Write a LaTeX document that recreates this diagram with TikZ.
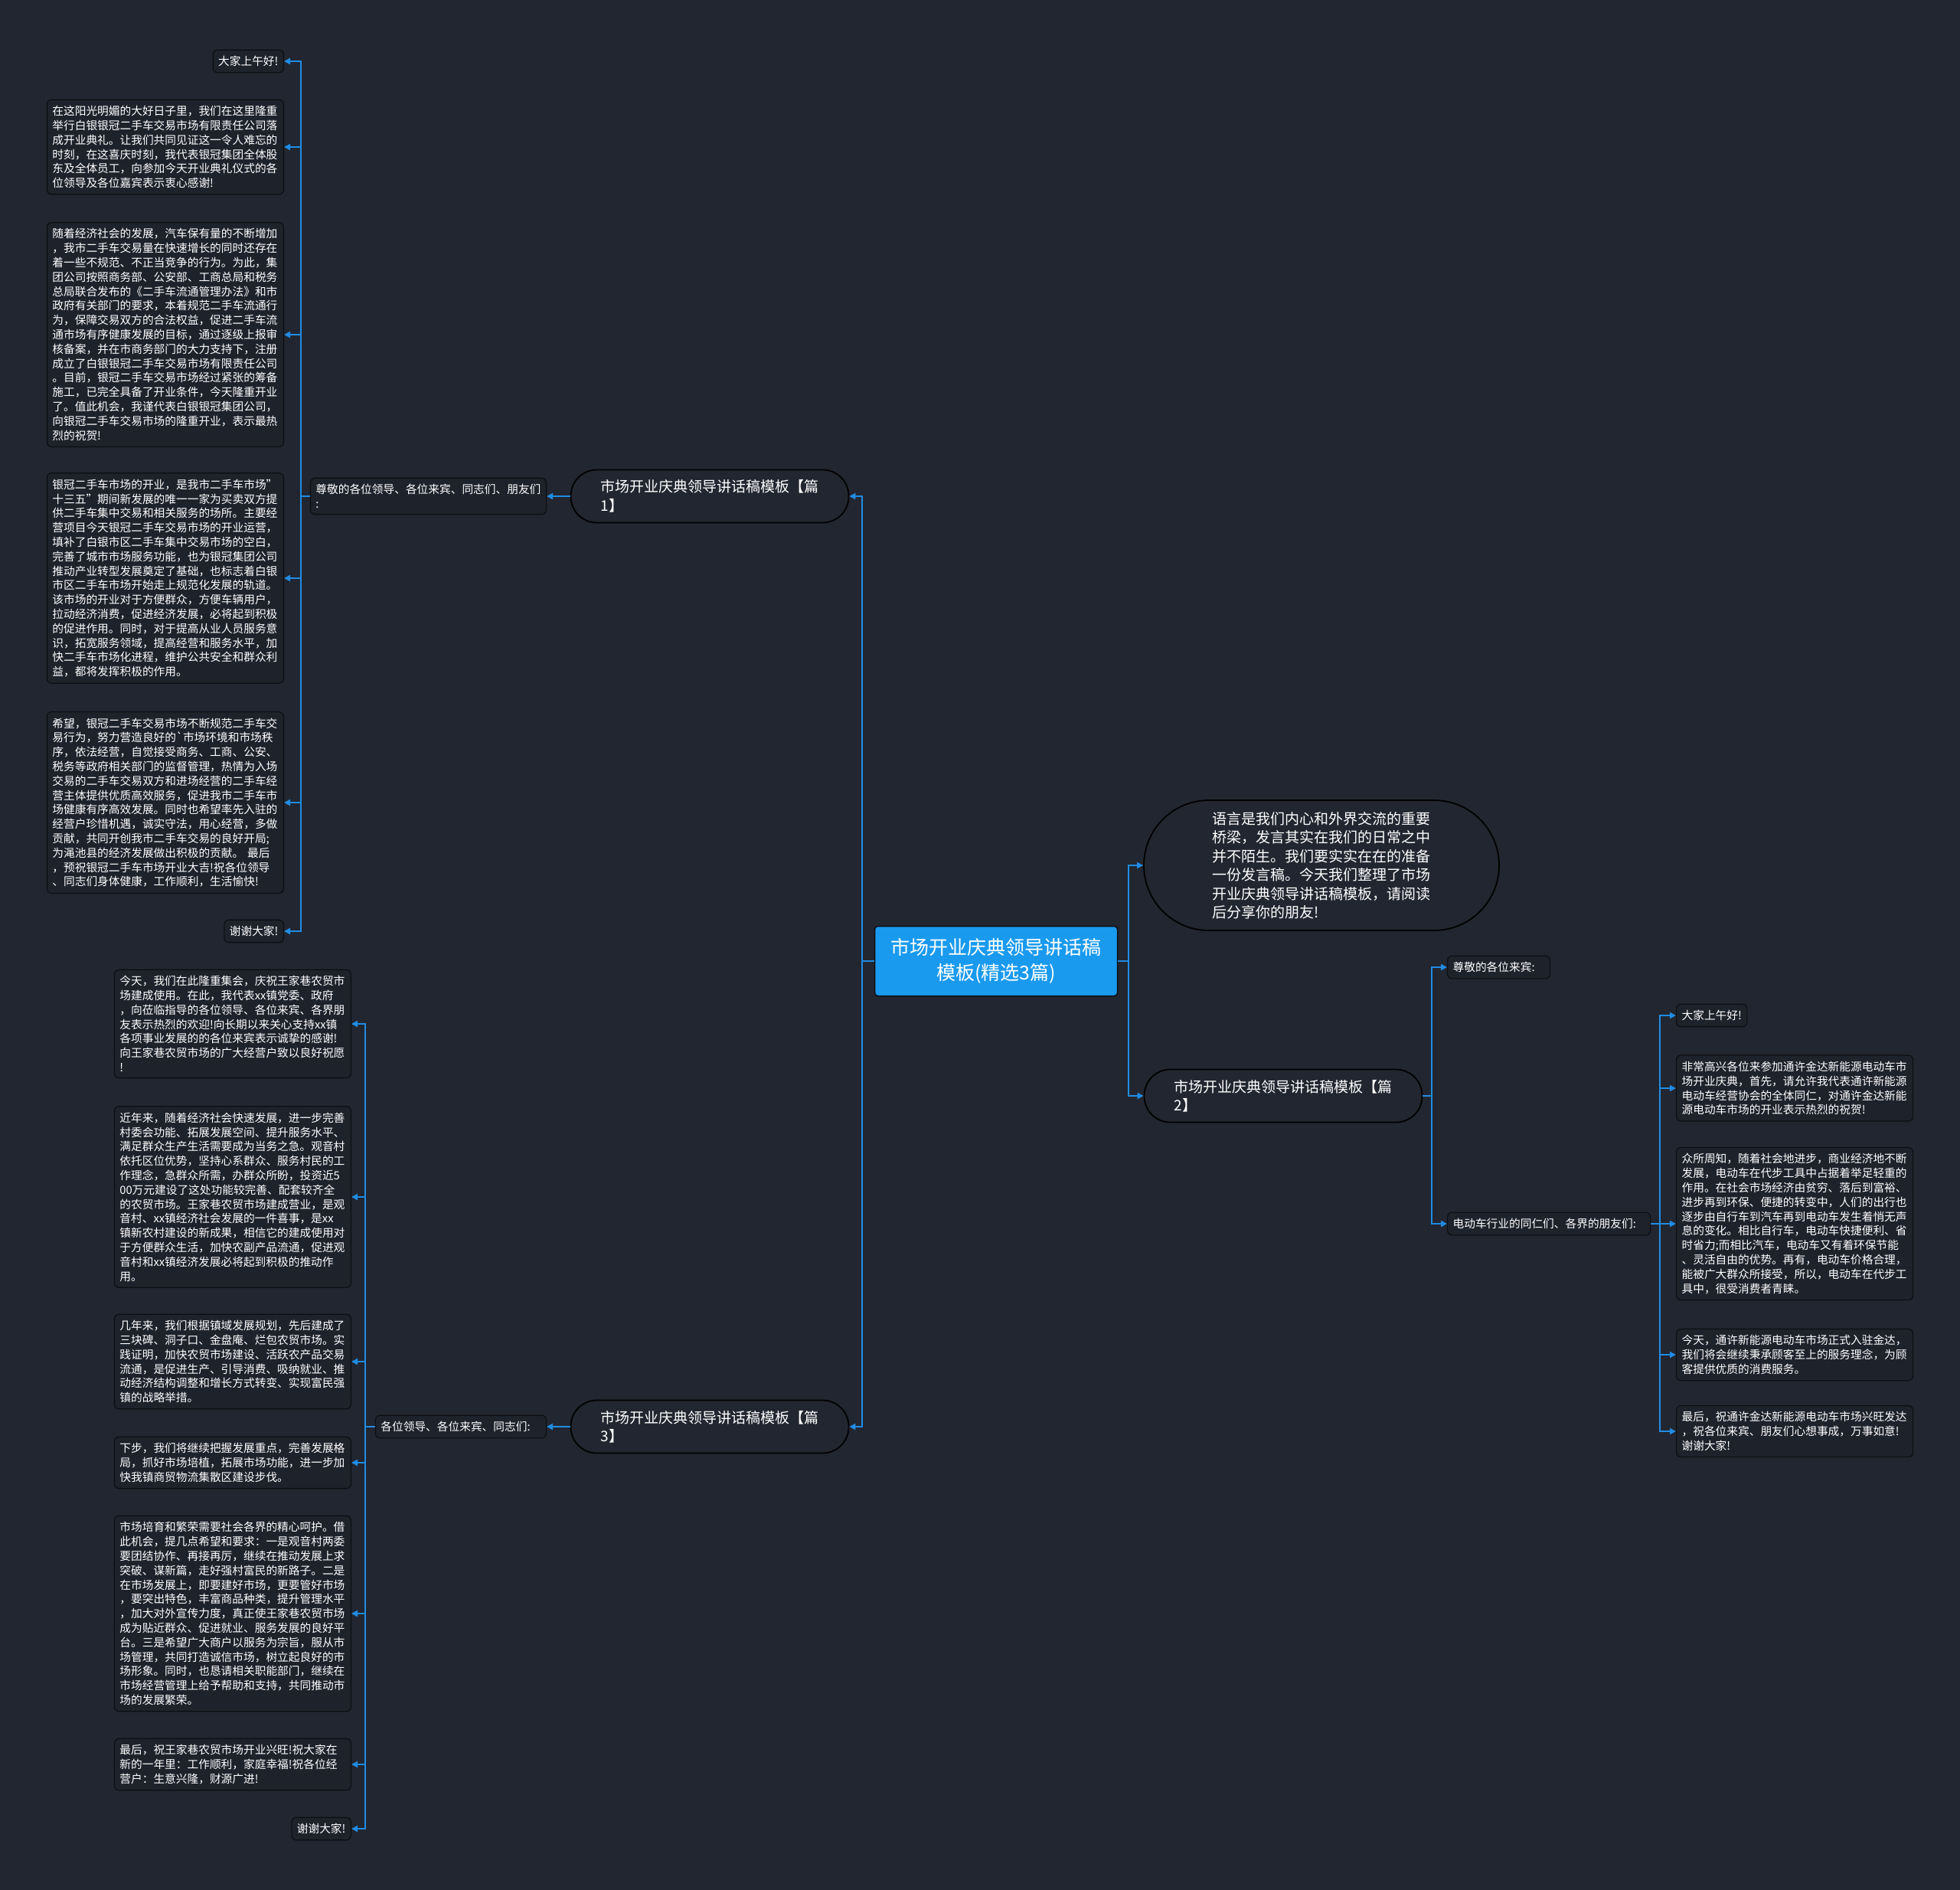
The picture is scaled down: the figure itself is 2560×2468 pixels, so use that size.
\documentclass[tikz,border=0pt]{standalone}
\usepackage{fontspec}
\setmainfont{Noto Sans CJK SC}
\definecolor{bgdark}{RGB}{34, 38, 48}
\definecolor{leafbg}{RGB}{30, 34, 43}
\definecolor{edgedark}{RGB}{12, 14, 18}
\definecolor{linkblue}{RGB}{32, 140, 228}
\definecolor{rootblue}{RGB}{26, 154, 238}
\usetikzlibrary{arrows.meta, positioning, calc}

\begin{document}
\begin{tikzpicture}[x=1pt, y=-1pt,
  leaf/.style={draw=edgedark, fill=leafbg, line width=1.2pt, rounded corners=6pt, text=white,
    font=\fontsize{14.7}{18.8}\selectfont, inner xsep=7pt, inner ysep=8pt, align=left},
  para/.style={leaf, text width=295pt},
  topic/.style={draw=black, fill=bgdark, line width=1.8pt, rounded corners=34pt, text=white,
    font=\fontsize{19}{24.5}\selectfont, align=left, text width=285pt,
    minimum width=363pt, minimum height=69pt, inner xsep=0pt},
  link/.style={draw=linkblue, line width=2pt, -{Triangle[length=8pt, width=8pt]}},
]
\useasboundingbox (0,0) rectangle (2560,2468);
\fill[bgdark] (0,0) rectangle (2560,2468);

% Centre
\node[draw=edgedark, fill=rootblue, line width=1.5pt, rounded corners=4pt, text=white,
  font=\fontsize{25}{33}\selectfont, align=center, minimum width=317pt, minimum height=91pt]
  (root) at (1301, 1255) {市场开业庆典领导讲话稿\\模板(精选3篇)};

\node[topic, rounded corners=85pt, minimum width=464pt, minimum height=170pt]
  (intro) at (1726, 1130)
{语言是我们内心和外界交流的重要\\
桥梁，发言其实在我们的日常之中\\
并不陌生。我们要实实在在的准备\\
一份发言稿。今天我们整理了市场\\
开业庆典领导讲话稿模板，请阅读\\
后分享你的朋友!};

\node[topic] (sec1) at (927, 648) {市场开业庆典领导讲话稿模板【篇\\1】};
\node[topic] (sec2) at (1676, 1431) {市场开业庆典领导讲话稿模板【篇\\2】};
\node[topic] (sec3) at (927, 1863) {市场开业庆典领导讲话稿模板【篇\\3】};

% Part 1
\node[leaf, anchor=east] (greet1) at (714, 648) {尊敬的各位领导、各位来宾、同志们、朋友们\\:};

\node[leaf, anchor=east] (p1a) at (371, 80) {大家上午好!};
\node[para, anchor=east] (p1b) at (371, 192)
{在这阳光明媚的大好日子里，我们在这里隆重\\
举行白银银冠二手车交易市场有限责任公司落\\
成开业典礼。让我们共同见证这一令人难忘的\\
时刻，在这喜庆时刻，我代表银冠集团全体股\\
东及全体员工，向参加今天开业典礼仪式的各\\
位领导及各位嘉宾表示衷心感谢!};
\node[para, anchor=east] (p1c) at (371, 437)
{随着经济社会的发展，汽车保有量的不断增加\\
，我市二手车交易量在快速增长的同时还存在\\
着一些不规范、不正当竞争的行为。为此，集\\
团公司按照商务部、公安部、工商总局和税务\\
总局联合发布的《二手车流通管理办法》和市\\
政府有关部门的要求，本着规范二手车流通行\\
为，保障交易双方的合法权益，促进二手车流\\
通市场有序健康发展的目标，通过逐级上报审\\
核备案，并在市商务部门的大力支持下，注册\\
成立了白银银冠二手车交易市场有限责任公司\\
。目前，银冠二手车交易市场经过紧张的筹备\\
施工，已完全具备了开业条件，今天隆重开业\\
了。值此机会，我谨代表白银银冠集团公司，\\
向银冠二手车交易市场的隆重开业，表示最热\\
烈的祝贺!};
\node[para, anchor=east] (p1d) at (371, 755)
{银冠二手车市场的开业，是我市二手车市场"\\
十三五"期间新发展的唯一一家为买卖双方提\\
供二手车集中交易和相关服务的场所。主要经\\
营项目今天银冠二手车交易市场的开业运营，\\
填补了白银市区二手车集中交易市场的空白，\\
完善了城市市场服务功能，也为银冠集团公司\\
推动产业转型发展奠定了基础，也标志着白银\\
市区二手车市场开始走上规范化发展的轨道。\\
该市场的开业对于方便群众，方便车辆用户，\\
拉动经济消费，促进经济发展，必将起到积极\\
的促进作用。同时，对于提高从业人员服务意\\
识，拓宽服务领域，提高经营和服务水平，加\\
快二手车市场化进程，维护公共安全和群众利\\
益，都将发挥积极的作用。};
\node[para, anchor=east] (p1e) at (371, 1048)
{希望，银冠二手车交易市场不断规范二手车交\\
易行为，努力营造良好的\textasciigrave 市场环境和市场秩\\
序，依法经营，自觉接受商务、工商、公安、\\
税务等政府相关部门的监督管理，热情为入场\\
交易的二手车交易双方和进场经营的二手车经\\
营主体提供优质高效服务，促进我市二手车市\\
场健康有序高效发展。同时也希望率先入驻的\\
经营户珍惜机遇，诚实守法，用心经营，多做\\
贡献，共同开创我市二手车交易的良好开局;\\
为渑池县的经济发展做出积极的贡献。 最后\\
，预祝银冠二手车市场开业大吉!祝各位领导\\
、同志们身体健康，工作顺利，生活愉快!};
\node[leaf, anchor=east] (p1f) at (371, 1216) {谢谢大家!};

% Part 3
\node[leaf, anchor=east, text width=209pt] (greet3) at (714, 1863) {各位领导、各位来宾、同志们:};

\node[para, anchor=east] (p3a) at (459, 1337)
{今天，我们在此隆重集会，庆祝王家巷农贸市\\
场建成使用。在此，我代表xx镇党委、政府\\
，向莅临指导的各位领导、各位来宾、各界朋\\
友表示热烈的欢迎!向长期以来关心支持xx镇\\
各项事业发展的的各位来宾表示诚挚的感谢!\\
向王家巷农贸市场的广大经营户致以良好祝愿\\
!};
\node[para, anchor=east] (p3b) at (459, 1563)
{近年来，随着经济社会快速发展，进一步完善\\
村委会功能、拓展发展空间、提升服务水平、\\
满足群众生产生活需要成为当务之急。观音村\\
依托区位优势，坚持心系群众、服务村民的工\\
作理念，急群众所需，办群众所盼，投资近5\\
00万元建设了这处功能较完善、配套较齐全\\
的农贸市场。王家巷农贸市场建成营业，是观\\
音村、xx镇经济社会发展的一件喜事，是xx\\
镇新农村建设的新成果，相信它的建成使用对\\
于方便群众生活，加快农副产品流通，促进观\\
音村和xx镇经济发展必将起到积极的推动作\\
用。};
\node[para, anchor=east] (p3c) at (459, 1778)
{几年来，我们根据镇域发展规划，先后建成了\\
三块碑、洞子口、金盘庵、烂包农贸市场。实\\
践证明，加快农贸市场建设、活跃农产品交易\\
流通，是促进生产、引导消费、吸纳就业、推\\
动经济结构调整和增长方式转变、实现富民强\\
镇的战略举措。};
\node[para, anchor=east] (p3d) at (459, 1910)
{下步，我们将继续把握发展重点，完善发展格\\
局，抓好市场培植，拓展市场功能，进一步加\\
快我镇商贸物流集散区建设步伐。};
\node[para, anchor=east] (p3e) at (459, 2107)
{市场培育和繁荣需要社会各界的精心呵护。借\\
此机会，提几点希望和要求：一是观音村两委\\
要团结协作、再接再厉，继续在推动发展上求\\
突破、谋新篇，走好强村富民的新路子。二是\\
在市场发展上，即要建好市场，更要管好市场\\
，要突出特色，丰富商品种类，提升管理水平\\
，加大对外宣传力度，真正使王家巷农贸市场\\
成为贴近群众、促进就业、服务发展的良好平\\
台。三是希望广大商户以服务为宗旨，服从市\\
场管理，共同打造诚信市场，树立起良好的市\\
场形象。同时，也恳请相关职能部门，继续在\\
市场经营管理上给予帮助和支持，共同推动市\\
场的发展繁荣。};
\node[para, anchor=east] (p3f) at (459, 2304)
{最后，祝王家巷农贸市场开业兴旺!祝大家在\\
新的一年里：工作顺利，家庭幸福!祝各位经\\
营户：生意兴隆，财源广进!};
\node[leaf, anchor=east] (p3g) at (459, 2388) {谢谢大家!};

% Part 2
\node[leaf, anchor=west, text width=120pt] (greet2a) at (1890, 1263) {尊敬的各位来宾:};
\node[leaf, anchor=west, text width=251pt] (greet2b) at (1890, 1598) {电动车行业的同仁们、各界的朋友们:};

\node[leaf, anchor=west] (p2a) at (2189, 1326) {大家上午好!};
\node[para, anchor=west] (p2b) at (2189, 1421)
{非常高兴各位来参加通许金达新能源电动车市\\
场开业庆典，首先，请允许我代表通许新能源\\
电动车经营协会的全体同仁，对通许金达新能\\
源电动车市场的开业表示热烈的祝贺!};
\node[para, anchor=west] (p2c) at (2189, 1598)
{众所周知，随着社会地进步，商业经济地不断\\
发展，电动车在代步工具中占据着举足轻重的\\
作用。在社会市场经济由贫穷、落后到富裕、\\
进步再到环保、便捷的转变中，人们的出行也\\
逐步由自行车到汽车再到电动车发生着悄无声\\
息的变化。相比自行车，电动车快捷便利、省\\
时省力;而相比汽车，电动车又有着环保节能\\
、灵活自由的优势。再有，电动车价格合理，\\
能被广大群众所接受，所以，电动车在代步工\\
具中，很受消费者青睐。};
\node[para, anchor=west] (p2d) at (2189, 1769)
{今天，通许新能源电动车市场正式入驻金达，\\
我们将会继续秉承顾客至上的服务理念，为顾\\
客提供优质的消费服务。};
\node[para, anchor=west] (p2e) at (2189, 1869)
{最后，祝通许金达新能源电动车市场兴旺发达\\
，祝各位来宾、朋友们心想事成，万事如意!\\
谢谢大家!};

% Connectors
\draw[link] (root.west) -- ++(-16,0) |- (sec1.east);
\draw[link] (root.west) -- ++(-16,0) |- (sec3.east);
\draw[link] (root.east) -- ++(14,0) |- (intro.west);
\draw[link] (root.east) -- ++(14,0) |- (sec2.west);

\draw[link] (sec1.west) -- (greet1.east);
\draw[link] (greet1.west) -- ++(-12,0) |- (p1a.east);
\draw[link] (greet1.west) -- ++(-12,0) |- (p1b.east);
\draw[link] (greet1.west) -- ++(-12,0) |- (p1c.east);
\draw[link] (greet1.west) -- ++(-12,0) |- (p1d.east);
\draw[link] (greet1.west) -- ++(-12,0) |- (p1e.east);
\draw[link] (greet1.west) -- ++(-12,0) |- (p1f.east);

\draw[link] (sec3.west) -- (greet3.east);
\draw[link] (greet3.west) -- ++(-13,0) |- (p3a.east);
\draw[link] (greet3.west) -- ++(-13,0) |- (p3b.east);
\draw[link] (greet3.west) -- ++(-13,0) |- (p3c.east);
\draw[link] (greet3.west) -- ++(-13,0) |- (p3d.east);
\draw[link] (greet3.west) -- ++(-13,0) |- (p3e.east);
\draw[link] (greet3.west) -- ++(-13,0) |- (p3f.east);
\draw[link] (greet3.west) -- ++(-13,0) |- (p3g.east);

\draw[link] (sec2.east) -- ++(12,0) |- (greet2a.west);
\draw[link] (sec2.east) -- ++(12,0) |- (greet2b.west);
\draw[link] (greet2b.east) -- ++(12,0) |- (p2a.west);
\draw[link] (greet2b.east) -- ++(12,0) |- (p2b.west);
\draw[link] (greet2b.east) -- ++(12,0) |- (p2c.west);
\draw[link] (greet2b.east) -- ++(12,0) |- (p2d.west);
\draw[link] (greet2b.east) -- ++(12,0) |- (p2e.west);
\end{tikzpicture}
\end{document}
